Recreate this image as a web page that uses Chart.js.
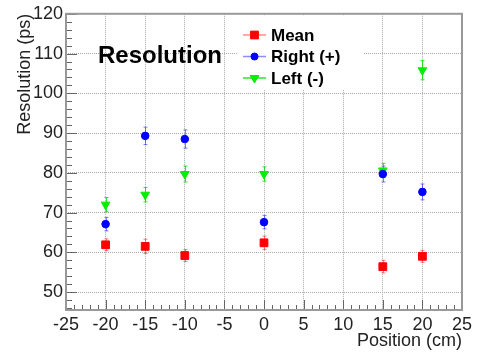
<!DOCTYPE html>
<html>
<head>
<meta charset="utf-8">
<script src="https://cdn.jsdelivr.net/npm/chart.js@4/dist/chart.umd.min.js"></script>
<style>
  body { margin: 0; background: #fff; }
  canvas { display: block; }
</style>
</head>
<body>
<canvas id="myChart" width="487" height="353"></canvas>
<script>
// positions along the bar (cm)
const positions = [-20, -15, -10, 0, 15, 20];

// resolution values (ps)
const meanVals  = [61.9, 61.5, 59.2, 62.4, 56.4, 59.0];
const meanErr   = [1.5, 1.8, 1.5, 1.7, 1.6, 1.5];
const rightVals = [67.1, 89.3, 88.5, 67.6, 79.7, 75.2];
const rightErr  = [1.7, 2.2, 2.3, 1.7, 2.0, 2.0];
const leftVals  = [72.0, 74.5, 79.7, 79.7, 80.6, 105.8];
const leftErr   = [1.8, 1.8, 2.0, 1.8, 1.8, 2.4];

const xTicks = [-25, -20, -15, -10, -5, 0, 5, 10, 15, 20, 25];
const yTicks = [50, 60, 70, 80, 90, 100, 110, 120];

const FONT = "'Liberation Sans', Arial, sans-serif";

function toPoints(vals, errs) {
    return positions.map((x, i) => ({ x: x, y: vals[i], err: errs[i] }));
}

// error bars, frame, ROOT-style ticks, legend box and label
const rootStyle = {
    id: 'rootStyle',
    beforeDatasetsDraw(chart) {
        const ctx = chart.ctx;
        const xs = chart.scales.x, ys = chart.scales.y;
        ctx.save();
        chart.data.datasets.forEach(ds => {
            ctx.strokeStyle = ds.errColor;
            ctx.lineWidth = 1;
            ds.data.forEach(p => {
                const px = Math.round(xs.getPixelForValue(p.x)) + 0.5;
                const y1 = ys.getPixelForValue(p.y - p.err);
                const y2 = ys.getPixelForValue(p.y + p.err);
                ctx.beginPath();
                ctx.moveTo(px, y1); ctx.lineTo(px, y2);
                ctx.moveTo(px - 2, y1); ctx.lineTo(px + 2, y1);
                ctx.moveTo(px - 2, y2); ctx.lineTo(px + 2, y2);
                ctx.stroke();
            });
        });
        ctx.restore();
    },
    afterDatasetsDraw(chart) {
        const ctx = chart.ctx;
        const a = chart.chartArea;
        const xs = chart.scales.x, ys = chart.scales.y;
        ctx.save();

        // ticks
        ctx.strokeStyle = '#666';
        ctx.lineWidth = 1;
        ctx.beginPath();
        for (let v = -25; v <= 25; v += 1) {
            const px = Math.round(xs.getPixelForValue(v)) + 0.5;
            const len = v % 5 === 0 ? 10 : 5;
            ctx.moveTo(px, a.bottom); ctx.lineTo(px, a.bottom - len);
        }
        for (let v = 46; v <= 120; v += 2) {
            const py = Math.round(ys.getPixelForValue(v)) + 0.5;
            const len = v % 10 === 0 ? 11 : 6;
            ctx.moveTo(a.left, py); ctx.lineTo(a.left + len, py);
        }
        ctx.stroke();

        // frame
        ctx.strokeStyle = '#999';
        ctx.lineWidth = 2;
        ctx.strokeRect(a.left, a.top, a.right - a.left, a.bottom - a.top);

        // label
        ctx.fillStyle = '#000';
        ctx.font = 'bold 24px ' + FONT;
        ctx.textAlign = 'left';
        ctx.textBaseline = 'middle';
        ctx.fillText('Resolution', 98, 56);

        // legend
        ctx.fillStyle = '#fff';
        ctx.fillRect(238, 16, 125, 74);
        const rows = [
            { label: 'Mean', color: '#ff0000', line: 'rgba(255,0,0,0.45)', style: 'rect', r: 5.5, rot: 0 },
            { label: 'Right (+)', color: '#0000ff', line: 'rgba(0,0,255,0.45)', style: 'circle', r: 3.5, rot: 0 },
            { label: 'Left (-)', color: '#00ee00', line: 'rgba(0,220,0,0.8)', style: 'triangle', r: 5, rot: 180 }
        ];
        ctx.font = 'bold 17px ' + FONT;
        rows.forEach((row, i) => {
            const y = 35 + i * 21.5;
            ctx.strokeStyle = row.line;
            ctx.lineWidth = 1.5;
            ctx.beginPath();
            ctx.moveTo(243, y); ctx.lineTo(266, y);
            ctx.stroke();
            ctx.fillStyle = row.color;
            ctx.strokeStyle = row.color;
            ctx.lineWidth = 1;
            Chart.helpers.drawPoint(ctx, { pointStyle: row.style, radius: row.r, rotation: row.rot, borderWidth: 1 }, 254.5, y);
            ctx.fillStyle = '#000';
            ctx.fillText(row.label, 271, y + 1);
        });
        ctx.restore();
    }
};

const config = {
    type: 'scatter',
    data: {
        datasets: [
            {
                label: 'Mean',
                data: toPoints(meanVals, meanErr),
                pointStyle: 'rect',
                pointRadius: 5.5,
                backgroundColor: '#ff0000',
                borderColor: '#ff0000',
                errColor: 'rgba(255,0,0,0.5)'
            },
            {
                label: 'Right (+)',
                data: toPoints(rightVals, rightErr),
                pointStyle: 'circle',
                pointRadius: 3.8,
                backgroundColor: '#0000ff',
                borderColor: '#0000ff',
                errColor: 'rgba(0,0,255,0.5)'
            },
            {
                label: 'Left (-)',
                data: toPoints(leftVals, leftErr),
                pointStyle: 'triangle',
                rotation: 180,
                pointRadius: 5,
                backgroundColor: '#00ee00',
                borderColor: '#00ee00',
                errColor: 'rgba(0,220,0,0.8)'
            }
        ]
    },
    options: {
        responsive: false,
        animation: false,
        devicePixelRatio: 1,
        layout: { padding: { top: 8, right: 25, left: 0, bottom: 0 } },
        plugins: {
            legend: { display: false },
            tooltip: { enabled: false }
        },
        scales: {
            x: {
                type: 'linear',
                min: -25,
                max: 25,
                afterFit(scale) { scale.height = 43; },
                afterBuildTicks(scale) { scale.ticks = xTicks.map(v => ({ value: v })); },
                grid: { color: '#aaa', drawTicks: false },
                border: { display: false, dash: [1, 1] },
                ticks: { color: '#222', padding: 4, font: { family: FONT, size: 18 }, maxRotation: 0 },
                title: {
                    display: true, text: 'Position (cm)', align: 'end', color: '#222',
                    font: { family: FONT, size: 18 }, padding: { top: 0, bottom: 1 }
                }
            },
            y: {
                type: 'linear',
                min: 45.5,
                max: 120,
                afterFit(scale) { scale.width = 66; },
                afterBuildTicks(scale) { scale.ticks = yTicks.map(v => ({ value: v })); },
                grid: { color: '#aaa', drawTicks: false },
                border: { display: false, dash: [1, 1] },
                ticks: { color: '#222', padding: 3, font: { family: FONT, size: 18 } },
                title: {
                    display: true, text: 'Resolution (ps)', align: 'end', color: '#222',
                    font: { family: FONT, size: 18 }, padding: { top: 14, bottom: 0 }
                }
            }
        }
    },
    plugins: [rootStyle]
};

const ctx = document.getElementById('myChart').getContext('2d');
const myChart = new Chart(ctx, config);
</script>
</body>
</html>
